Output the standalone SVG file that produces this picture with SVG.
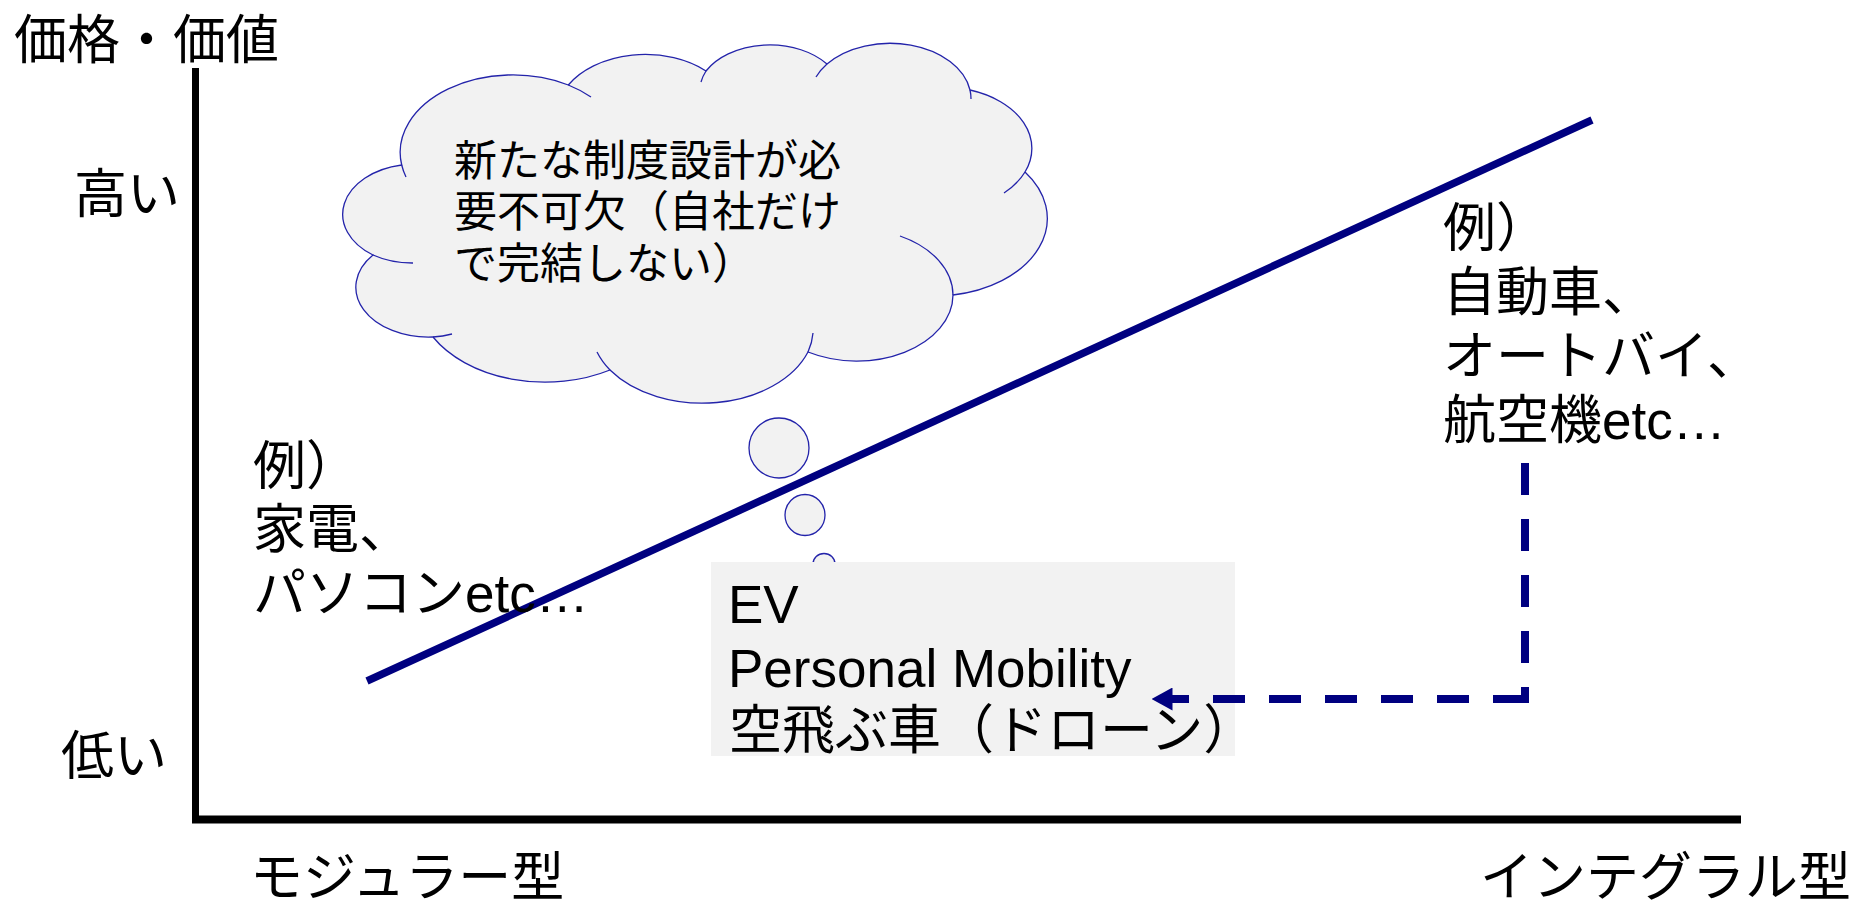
<svg xmlns="http://www.w3.org/2000/svg" width="1856" height="904" viewBox="0 0 1856 904">
  <style>
    .t { font-family: "Liberation Sans", "Noto Sans CJK JP", sans-serif; fill: #000; }
    .big { font-size: 53px; }
    .mid { font-size: 43px; }
    .cloud { fill: #f2f2f2; stroke: #2323aa; stroke-width: 1.3; }
    .crease { fill: none; stroke: #2323aa; stroke-width: 1.3; }
  </style>
  <defs>
    <marker id="arrow" markerUnits="userSpaceOnUse" markerWidth="21" markerHeight="23" viewBox="0 0 21 23" refX="0.5" refY="11.5" orient="auto">
      <polygon points="0,0 21,11.5 0,23" fill="#000080"/>
    </marker>
  </defs>
  <rect width="1856" height="904" fill="#ffffff"/>

  <g id="axes">
    <line x1="195.5" y1="68" x2="195.5" y2="823" stroke="#000" stroke-width="7"/>
    <line x1="192" y1="819.5" x2="1741" y2="819.5" stroke="#000" stroke-width="8"/>
  </g>

  <g id="axis-labels">
    <text class="t big" x="14" y="59">価格・価値</text>
    <text class="t big" x="74" y="213">高い</text>
    <text class="t big" x="61" y="775">低い</text>
    <text class="t big" x="250" y="896">モジュラー型</text>
    <text class="t big" x="1480" y="896">インテグラル型</text>
  </g>

  <g id="trend-line">
    <line x1="367" y1="681" x2="1592" y2="120" stroke="#000080" stroke-width="7.5"/>
  </g>

  <g id="example-modular">
    <text class="t big" x="253" y="485">例）</text>
    <text class="t big" x="253" y="548">家電、</text>
    <text class="t big" x="253" y="612">パソコンetc…</text>
  </g>

  <g id="example-integral">
    <text class="t big" x="1443" y="247">例）</text>
    <text class="t big" x="1443" y="311">自動車、</text>
    <text class="t big" x="1443" y="375">オートバイ、</text>
    <text class="t big" x="1443" y="439">航空機etc…</text>
  </g>

  <g id="cloud-callout">
    <path class="cloud" d="M401.7,165 A112.6,77.4 0 0 1 568.3,85 A88.9,61.2 0 0 1 706,71 A72.8,50.1 0 0 1 827,64 A81,55.6 0 0 1 970,90 A88.9,61.3 0 0 1 1025,172 A112.9,77.7 0 0 1 953,295 A96.4,66.3 0 0 1 808,352 A112.5,77.6 0 0 1 610,370 A128.7,88.8 0 0 1 433,337 A72.7,49.9 0 0 1 373,255 A72.4,50.1 0 0 1 401.7,165 Z"/>
    <path class="crease" d="M373,255 A72.4,50.1 0 0 0 413,263 M401.7,165 A112.6,77.4 0 0 0 406,177 M568.3,85 A112.6,77.4 0 0 1 591,97 M706,71 A72.8,50.1 0 0 0 701,82 M827,64 A81,55.6 0 0 0 816,77 M970,90 A81,55.6 0 0 1 971,99 M1025,172 A88.9,61.3 0 0 1 1004,193 M953,295 A96.4,66.3 0 0 0 900,236 M808,352 A112.5,77.6 0 0 0 813,333 M610,370 A112.5,77.6 0 0 1 597,352 M433,337 A72.7,49.9 0 0 0 452,334"/>
    <ellipse class="cloud" cx="779" cy="448" rx="30" ry="30"/>
    <ellipse class="cloud" cx="805" cy="515" rx="20" ry="20.5"/>
    <ellipse class="cloud" cx="824" cy="564" rx="11" ry="10.5"/>
    <text class="t mid" x="454" y="176">新たな制度設計が必</text>
    <text class="t mid" x="454" y="227">要不可欠（自社だけ</text>
    <text class="t mid" x="454" y="279">で完結しない）</text>
  </g>

  <g id="new-mobility">
    <rect x="711" y="562" width="524" height="194" fill="#f2f2f2"/>
    <text class="t big" x="728" y="623">EV</text>
    <text class="t big" x="728" y="687">Personal Mobility</text>
    <text class="t big" x="729" y="749">空飛ぶ車（ドローン）</text>
  </g>

  <g id="connectors">
    <path d="M1525,463 V699 H1172" fill="none" stroke="#000080" stroke-width="8" stroke-linejoin="miter" stroke-dasharray="32 24 32 24 32 24 32 24 44 24 32 24 32 24 32 24 32 24 32 24 32 24 40" marker-end="url(#arrow)"/>
  </g>
</svg>
